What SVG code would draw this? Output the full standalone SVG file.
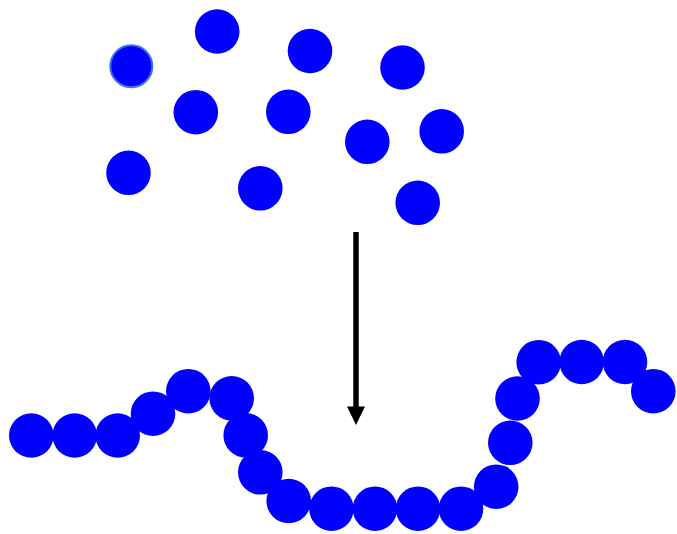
<svg xmlns="http://www.w3.org/2000/svg" width="677" height="534" viewBox="0 0 677 534">
<style>
.b{fill:#0000ff;}
.s{fill:#0000ff;stroke:#3f6ff2;stroke-width:2;}
</style>
<rect width="677" height="534" fill="#ffffff"/>
<g id="monomers">
<circle id="m1" class="s" cx="131.3" cy="66.2" r="21"/>
<circle id="m2" class="b" cx="217.2" cy="31.5" r="22.3"/>
<circle id="m3" class="b" cx="310" cy="51" r="22.3"/>
<circle id="m4" class="b" cx="402.5" cy="67.5" r="22.3"/>
<circle id="m5" class="b" cx="195.8" cy="112.2" r="22.3"/>
<circle id="m6" class="b" cx="288.3" cy="111.8" r="22.3"/>
<circle id="m7" class="b" cx="367.3" cy="141.8" r="22.3"/>
<circle id="m8" class="b" cx="441.7" cy="131.3" r="22.3"/>
<circle id="m9" class="b" cx="128.5" cy="172.8" r="22.3"/>
<circle id="m10" class="b" cx="260.3" cy="188.3" r="22.3"/>
<circle id="m11" class="b" cx="417.7" cy="202.8" r="22.3"/>
</g>
<g id="connectors">
<line x1="356" y1="232" x2="356" y2="408" stroke="#000000" stroke-width="5.5"/>
<polygon points="347,406.5 365,406.5 356,425" fill="#000000"/>
</g>
<g id="polymer">
<circle class="b" cx="31.3" cy="435.5" r="22.3"/>
<circle class="b" cx="74.7" cy="435.5" r="22.3"/>
<circle class="b" cx="117.7" cy="435.5" r="22.3"/>
<circle class="b" cx="153" cy="413.7" r="22.3"/>
<circle class="b" cx="188.3" cy="391.2" r="22.3"/>
<circle class="b" cx="231.7" cy="398.3" r="22.3"/>
<circle class="b" cx="245.7" cy="435.3" r="22.3"/>
<circle class="b" cx="260.3" cy="472.3" r="22.3"/>
<circle class="b" cx="288.7" cy="501" r="22.3"/>
<circle class="b" cx="331.5" cy="508.7" r="22.3"/>
<circle class="b" cx="375" cy="508.7" r="22.3"/>
<circle class="b" cx="418" cy="508.7" r="22.3"/>
<circle class="b" cx="461" cy="508.7" r="22.3"/>
<circle class="b" cx="496.2" cy="486.7" r="22.3"/>
<circle class="b" cx="510.3" cy="442.8" r="22.3"/>
<circle class="b" cx="517.5" cy="398.5" r="22.3"/>
<circle class="b" cx="538.7" cy="362.2" r="22.3"/>
<circle class="b" cx="581.7" cy="362" r="22.3"/>
<circle class="b" cx="625" cy="362" r="22.3"/>
<circle class="b" cx="653.3" cy="391.2" r="22.3"/>
</g>
</svg>
